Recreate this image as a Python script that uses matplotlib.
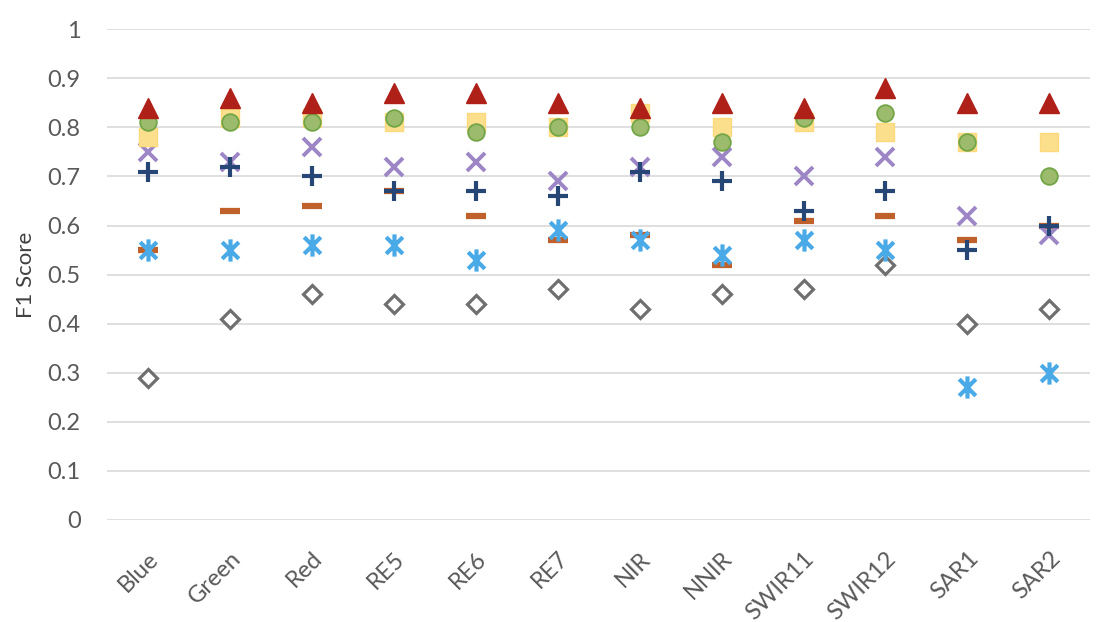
import numpy as np
import matplotlib.pyplot as plt
from matplotlib.path import Path

plt.rcParams['font.family'] = ['Lato', 'DejaVu Sans']

bands = ['Blue', 'Green', 'Red', 'RE5', 'RE6', 'RE7', 'NIR', 'NNIR', 'SWIR11', 'SWIR12', 'SAR1', 'SAR2']

# F1 scores, one list per method
tri = [0.84, 0.86, 0.85, 0.87, 0.87, 0.85, 0.84, 0.85, 0.84, 0.88, 0.85, 0.85]
sq = [0.78, 0.82, 0.82, 0.81, 0.81, 0.80, 0.83, 0.80, 0.81, 0.79, 0.77, 0.77]
circ = [0.81, 0.81, 0.81, 0.82, 0.79, 0.80, 0.80, 0.77, 0.82, 0.83, 0.77, 0.70]
xs = [0.75, 0.73, 0.76, 0.72, 0.73, 0.69, 0.72, 0.74, 0.70, 0.74, 0.62, 0.58]
plus = [0.71, 0.72, 0.70, 0.67, 0.67, 0.66, 0.71, 0.69, 0.63, 0.67, 0.55, 0.60]
dash = [0.55, 0.63, 0.64, 0.67, 0.62, 0.57, 0.58, 0.52, 0.61, 0.62, 0.57, 0.60]
star = [0.55, 0.55, 0.56, 0.56, 0.53, 0.59, 0.57, 0.54, 0.57, 0.55, 0.27, 0.30]
diam = [0.29, 0.41, 0.46, 0.44, 0.44, 0.47, 0.43, 0.46, 0.47, 0.52, 0.40, 0.43]

x = np.arange(len(bands))

# excel style star: vertical bar plus an X
star_path = Path([(0, -1), (0, 1), (-0.75, -0.75), (0.75, 0.75), (-0.75, 0.75), (0.75, -0.75)],
                 [Path.MOVETO, Path.LINETO, Path.MOVETO, Path.LINETO, Path.MOVETO, Path.LINETO])

fig = plt.figure(figsize=(11.2, 6.22), dpi=100)
ax = fig.add_axes([0.0955, 0.164, 0.878, 0.789])

ax.plot(x, diam, 'D', ls='none', ms=9, mfc='white', mec='#6f6f6f', mew=2.3)
ax.plot(x, dash, '_', ls='none', ms=14, mec='#c0612b', mew=4.5)
ax.plot(x, star, ls='none', marker=star_path, ms=16, mec='#4aaae8', mew=3)
ax.plot(x, xs, 'x', ls='none', ms=13, mec='#9c86c6', mew=2.8)
ax.plot(x, plus, '+', ls='none', ms=15, mec='#264676', mew=3)
ax.plot(x, sq, 's', ls='none', ms=13, mfc='#fcdf8d', mec='#fcd97a', mew=1)
ax.plot(x, circ, 'o', ls='none', ms=12, mfc='#9dbb6c', mec='#72a545', mew=1.3)
ax.plot(x, tri, '^', ls='none', ms=14, mfc='#ae2018', mec='#ae2018')

ax.set_xlim(-0.5, len(bands) - 0.5)
ax.set_ylim(0, 1)
ax.set_yticks(np.arange(0, 1.01, 0.1))
ax.set_yticklabels(['0'] + ['%.1f' % v for v in np.arange(0.1, 0.95, 0.1)] + ['1'])
ax.grid(axis='y', color='#d9d9d9', lw=1.2)
ax.set_axisbelow(True)
for s in ax.spines.values():
    s.set_visible(False)
ax.tick_params(axis='both', length=0, labelsize=17, colors='#595959')
ax.tick_params(axis='x', pad=20)
ax.tick_params(axis='y', pad=19)
ax.set_xticks(x)
ax.set_xticklabels(bands, rotation=45, ha='right', rotation_mode='anchor')
ax.set_ylabel('F1 Score', fontsize=16, color='#404040', labelpad=8)

fig.savefig('out.png', dpi=100)
